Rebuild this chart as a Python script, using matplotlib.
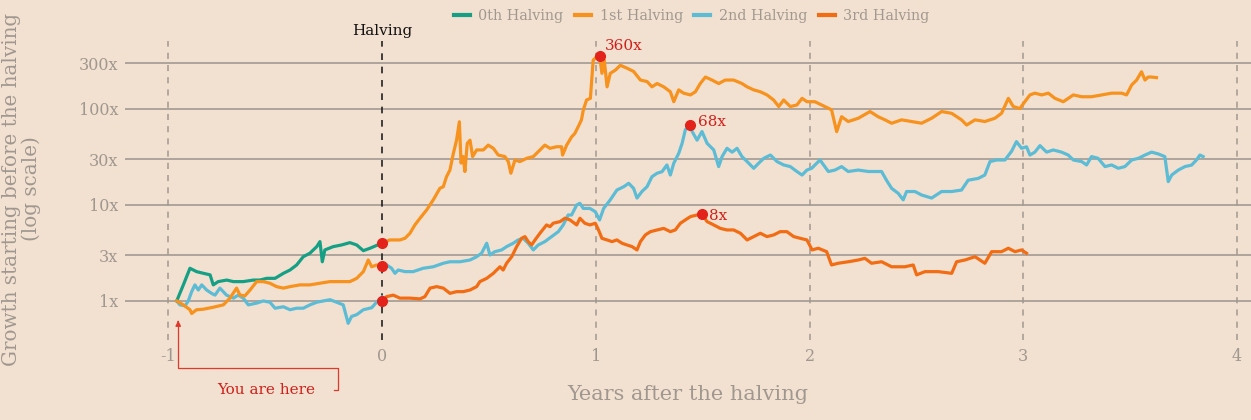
import matplotlib
matplotlib.use('Agg')
import matplotlib.pyplot as plt
from matplotlib.lines import Line2D
import matplotlib.transforms as mtransforms

# colores
BG = '#f2e1d0'
GRIS = '#a09890'
GRID = '#9c948d'
ROJO = '#e3231b'
C0 = '#15a085'
C1 = '#f7921e'
C2 = '#5cbcd6'
C3 = '#f26c14'

# 0th halving (sólo antes del halving)
h0_x = [-0.96, -0.93, -0.898, -0.867, -0.843, -0.804, -0.789, -0.766, -0.726, -0.695,
        -0.649, -0.602, -0.571, -0.539, -0.500, -0.461, -0.430, -0.399, -0.368, -0.337,
        -0.305, -0.290, -0.279, -0.267, -0.228, -0.189, -0.150, -0.118, -0.087, -0.056, 0.0]
h0_y = [1.0, 1.45, 2.19, 2.02, 1.96, 1.87, 1.47, 1.59, 1.65, 1.59,
        1.59, 1.65, 1.65, 1.72, 1.72, 1.94, 2.1, 2.37, 2.89, 3.14,
        3.68, 4.15, 2.56, 3.4, 3.68, 3.83, 4.05, 3.83, 3.34, 3.54, 4.0]

# 1st halving
h1_pre_x = [-0.96, -0.929, -0.898, -0.890, -0.867, -0.836, -0.789, -0.742, -0.711, -0.680,
            -0.664, -0.641, -0.617, -0.586, -0.555, -0.524, -0.493, -0.461, -0.430, -0.384,
            -0.337, -0.290, -0.243, -0.196, -0.150, -0.118, -0.087, -0.064, -0.048, -0.025, 0.0]
h1_pre_y = [1.0, 0.91, 0.81, 0.74, 0.81, 0.82, 0.86, 0.91, 1.07, 1.36,
            1.15, 1.13, 1.30, 1.59, 1.59, 1.53, 1.41, 1.36, 1.41, 1.47,
            1.47, 1.53, 1.59, 1.59, 1.59, 1.72, 2.02, 2.67, 2.27, 2.37, 2.3]
h1_post_x = [0.0, 0.037, 0.084, 0.108, 0.131, 0.154, 0.178, 0.209, 0.240, 0.271,
             0.287, 0.302, 0.318, 0.334, 0.349, 0.362, 0.370, 0.380, 0.388, 0.399,
             0.412, 0.424, 0.443, 0.474, 0.497, 0.521, 0.544, 0.575, 0.591, 0.603,
             0.622, 0.645, 0.677, 0.708, 0.739, 0.762, 0.786, 0.817, 0.840, 0.845,
             0.864, 0.887, 0.902, 0.918, 0.933, 0.942, 0.957,
             0.975, 0.988, 1.004, 1.018, 1.029, 1.04, 1.053, 1.068, 1.092, 1.115,
             1.146, 1.177, 1.209, 1.240, 1.263, 1.287, 1.318, 1.349, 1.365, 1.388,
             1.411, 1.443, 1.466, 1.489, 1.513, 1.544, 1.575, 1.606, 1.645, 1.684,
             1.708, 1.739, 1.770, 1.801, 1.832, 1.856, 1.879, 1.910, 1.941, 1.965, 1.988,
             2.025, 2.072, 2.103, 2.127, 2.150, 2.181, 2.228, 2.283, 2.321, 2.353,
             2.384, 2.431, 2.477, 2.524, 2.571, 2.618, 2.665, 2.711, 2.735, 2.774,
             2.820, 2.867, 2.898, 2.930, 2.953, 2.984, 3.007, 3.031,
             3.054, 3.086, 3.117, 3.148, 3.187, 3.234, 3.273, 3.319, 3.366, 3.413,
             3.460, 3.483, 3.507, 3.530, 3.553, 3.569, 3.584, 3.600, 3.623]
h1_post_y = [4.0, 4.32, 4.32, 4.5, 5.07, 6.19, 7.27, 8.86, 11.3, 14.9,
             15.5, 19.7, 23.1, 34.4, 47.3, 73.6, 27.3, 31.9, 22.3, 43.8,
             47.3, 31.9, 37.4, 37.4, 42, 38.9, 33.1, 31.9, 28.3, 21.4,
             29.4, 28.3, 30.6, 31.9, 37.4, 42, 38.9, 40.4, 40.4, 33.1,
             42, 51.1, 55.5, 65.3, 76.8, 97.8, 124,
             129, 322, 350, 360, 235, 322, 170, 235, 254, 285,
             266, 246, 200, 193, 170, 184, 170, 151, 119, 158,
             146, 140, 151, 184, 215, 200, 184, 200, 200, 184,
             170, 158, 151, 140, 124, 106, 124, 106, 110, 129, 119,
             119, 106, 98, 58, 83, 74, 80, 94, 83, 77,
             71, 77, 74, 71, 80, 94, 90, 77, 68, 77,
             74, 80, 90, 129, 106, 101, 119, 140,
             146, 140, 146, 129, 119, 140, 134, 134, 140, 146,
             146, 140, 178, 200, 244, 200, 215, 215, 212]

# 2nd halving
h2_pre_x = [-0.960, -0.945, -0.921, -0.906, -0.890, -0.875, -0.859, -0.843, -0.820, -0.797,
            -0.781, -0.758, -0.727, -0.695, -0.672, -0.649, -0.625, -0.586, -0.555, -0.524,
            -0.500, -0.461, -0.430, -0.399, -0.368, -0.337, -0.305, -0.274, -0.243, -0.212,
            -0.181, -0.158, -0.142, -0.118, -0.087, -0.048, -0.025, 0.0]
h2_pre_y = [1.0, 0.91, 0.89, 1.0, 1.25, 1.47, 1.30, 1.47, 1.30, 1.20,
            1.15, 1.36, 1.15, 1.07, 1.15, 1.07, 0.91, 0.95, 1.0, 0.97,
            0.84, 0.87, 0.81, 0.84, 0.84, 0.91, 0.97, 1.0, 1.03, 0.97,
            0.91, 0.585, 0.69, 0.72, 0.81, 0.85, 0.97, 1.1]
h2_post_x = [0.0, 0.022, 0.045, 0.061, 0.076, 0.108, 0.146, 0.193, 0.240, 0.287,
             0.318, 0.365, 0.412, 0.443, 0.466, 0.490, 0.505, 0.528, 0.560, 0.583,
             0.614, 0.637, 0.661, 0.684, 0.708, 0.731, 0.762, 0.794, 0.825, 0.848,
             0.871, 0.887, 0.911, 0.926, 0.942, 0.973,
             0.998, 1.018, 1.037, 1.068, 1.099, 1.131, 1.154, 1.177, 1.193, 1.216,
             1.240, 1.263, 1.287, 1.310, 1.333, 1.349, 1.365, 1.388, 1.404, 1.419,
             1.440, 1.451, 1.474, 1.497, 1.521, 1.552, 1.575, 1.591, 1.614, 1.638,
             1.661, 1.684, 1.708, 1.739, 1.762, 1.786, 1.817, 1.848, 1.879, 1.910,
             1.941, 1.965, 1.988,
             2.010, 2.049, 2.088, 2.119, 2.150, 2.181, 2.228, 2.275, 2.337, 2.360,
             2.384, 2.415, 2.438, 2.454, 2.493, 2.524, 2.571, 2.618, 2.665, 2.711,
             2.742, 2.789, 2.820, 2.844, 2.875, 2.914, 2.945, 2.968, 2.992, 3.015,
             3.031, 3.054, 3.078, 3.109, 3.140, 3.179, 3.210, 3.234, 3.273, 3.296,
             3.319, 3.350, 3.382, 3.413, 3.444, 3.475, 3.507, 3.538, 3.569, 3.600,
             3.631, 3.662, 3.678, 3.694, 3.725, 3.756, 3.787, 3.810, 3.826, 3.841]
h2_post_y = [2.37, 2.37, 2.19, 1.94, 2.10, 2.02, 2.02, 2.19, 2.27, 2.47,
             2.56, 2.56, 2.67, 2.89, 3.14, 3.99, 3.01, 3.26, 3.4, 3.68,
             3.99, 4.32, 4.49, 3.99, 3.4, 3.83, 4.15, 4.68, 5.27, 6.19,
             7.86, 7.86, 10, 10.4, 9.2, 9.2,
             8.5, 6.98, 9.2, 11.3, 14.3, 15.5, 16.8, 14.9, 11.8, 13.8,
             15.5, 19.7, 21.4, 22.2, 26.1, 20.5, 27.2, 34.4, 43.8, 60.5,
             68, 58.2, 47.3, 58.2, 43.8, 37.4, 25.1, 31.9, 38.9, 35.5,
             38.9, 31.9, 28.3, 24.1, 27.2, 30.6, 33.1, 28.3, 26.1, 25.1,
             22.3, 20.5, 23.1,
             24.1, 29.4, 22.3, 23.1, 25.1, 22.3, 23.1, 22.3, 22.3, 18.1,
             14.9, 13.2, 11.3, 13.8, 13.8, 12.7, 11.8, 13.8, 13.8, 14.3,
             18.1, 18.9, 20.5, 28.3, 29.4, 29.4, 36.2, 45.7, 38.9, 40.4,
             33.1, 35.5, 41.5, 35.5, 37.4, 35.5, 33.1, 29.4, 28.3, 26.1,
             31.9, 30.6, 25.1, 26.1, 24.1, 25.1, 29.4, 30.6, 33.1, 35.5,
             34, 31.9, 17.5, 20.5, 23.1, 25.1, 26, 29.4, 33.1, 31.9]

# 3rd halving (sólo después del halving)
h3_x = [0.0, 0.022, 0.053, 0.084, 0.131, 0.178, 0.201, 0.225, 0.256, 0.287,
        0.318, 0.349, 0.380, 0.412, 0.443, 0.458, 0.490, 0.521, 0.552, 0.567,
        0.583, 0.607, 0.630, 0.653, 0.669, 0.684, 0.700, 0.716, 0.739, 0.770,
        0.786, 0.801, 0.833, 0.856, 0.879, 0.911, 0.926, 0.949, 0.973,
        0.998, 1.013, 1.029, 1.053, 1.076, 1.099, 1.123, 1.146, 1.170, 1.193,
        1.209, 1.232, 1.256, 1.287, 1.318, 1.349, 1.372, 1.396, 1.419, 1.443,
        1.474, 1.497, 1.521, 1.552, 1.583, 1.614, 1.645, 1.677, 1.708, 1.739,
        1.770, 1.801, 1.832, 1.863, 1.894, 1.926, 1.957, 1.988, 2.012,
        2.041, 2.080, 2.103, 2.134, 2.181, 2.228, 2.259, 2.290, 2.337, 2.384,
        2.446, 2.485, 2.501, 2.540, 2.602, 2.665, 2.688, 2.727, 2.774, 2.820,
        2.852, 2.898, 2.930, 2.961, 2.992, 3.015]
h3_y = [1.0, 1.11, 1.15, 1.07, 1.07, 1.05, 1.11, 1.36, 1.41, 1.36,
        1.2, 1.25, 1.25, 1.30, 1.41, 1.59, 1.72, 1.94, 2.27, 2.10,
        2.47, 2.89, 3.68, 4.49, 4.68, 4.15, 3.83, 4.32, 5.07, 6.19,
        5.94, 6.45, 6.7, 7.27, 7.0, 6.19, 7.27, 6.45, 6.19,
        6.45, 5.49, 4.49, 4.32, 4.15, 4.32, 3.99, 3.83, 3.68, 3.4,
        4.15, 4.87, 5.27, 5.49, 5.7, 5.27, 5.49, 6.45, 6.98, 7.56,
        7.86, 8.0, 6.7, 6.19, 5.7, 5.49, 5.49, 5.07, 4.32, 4.68,
        5.07, 4.68, 4.87, 5.27, 5.27, 4.68, 4.49, 4.32, 3.4,
        3.54, 3.26, 2.37, 2.47, 2.56, 2.67, 2.78, 2.47, 2.56, 2.27,
        2.27, 2.37, 1.87, 2.02, 2.02, 1.94, 2.56, 2.67, 2.89, 2.47,
        3.26, 3.26, 3.54, 3.26, 3.4, 3.14]

# puntos destacados
dot_x = [0.0, 0.0, 0.0, 1.018, 1.44, 1.497]
dot_y = [4.0, 2.3, 1.0, 360, 68, 8.0]
peak_labels = ['360x', '68x', '8x']
peak_offsets = [(4, 2), (6, -3), (5, -6)]

y_ticks = [1, 3, 10, 30, 100, 300]
y_ticklabels = ['1x', '3x', '10x', '30x', '100x', '300x']
x_ticks = [-1, 0, 1, 2, 3, 4]

plt.rcParams['font.family'] = ['DejaVu Serif']
plt.rcParams['axes.unicode_minus'] = False

fig = plt.figure(figsize=(12.51, 4.2), dpi=100, facecolor=BG)
ax = fig.add_axes([0.0999, 0.1905, 0.9001, 0.712])
ax.set_facecolor(BG)
ax.set_yscale('log')
ax.set_xlim(-1.202, 4.065)
ax.set_ylim(0.392, 511)

for s in ax.spines.values():
    s.set_visible(False)

ax.set_yticks(y_ticks)
ax.set_yticklabels(y_ticklabels)
ax.minorticks_off()
ax.set_xticks(x_ticks)
ax.tick_params(length=0, labelsize=11.5, labelcolor=GRIS)
ax.tick_params(axis='y', pad=5)
ax.tick_params(axis='x', pad=6)
for t in y_ticks:
    ax.axhline(t, color=GRID, lw=1.1, zorder=1)
for t in x_ticks:
    if t == 0:
        ax.axvline(t, color='#222222', lw=1.2, ls=(0, (4, 4)), zorder=1)
    else:
        ax.axvline(t, color=GRIS, lw=1.1, ls=(0, (4, 4)), zorder=1)

lw = 2.3
ax.plot(h0_x, h0_y, color=C0, lw=lw, zorder=3)
ax.plot(h1_pre_x, h1_pre_y, color=C1, lw=lw, zorder=3)
ax.plot(h1_post_x, h1_post_y, color=C1, lw=lw, zorder=3)
ax.plot(h2_pre_x, h2_pre_y, color=C2, lw=lw, zorder=2.9)
ax.plot(h2_post_x, h2_post_y, color=C2, lw=lw, zorder=3)
ax.plot(h3_x, h3_y, color=C3, lw=lw, zorder=3)

ax.plot(dot_x, dot_y, 'o', color=ROJO, ms=7, zorder=5, ls='none')
for lab, px, py, off in zip(peak_labels, dot_x[3:], dot_y[3:], peak_offsets):
    ax.annotate(lab, (px, py), xytext=off, textcoords='offset points',
                color='#d0201a', fontsize=11, ha='left', va='bottom')

# etiqueta del halving
trans = mtransforms.blended_transform_factory(ax.transData, ax.transAxes)
ax.text(0, 1.01, 'Halving', transform=trans, ha='center', va='bottom',
        fontsize=11, color='#111111')

# "You are here"
ax.plot([-0.225, -0.206, -0.206, -0.953, -0.953], [0.118, 0.118, 0.2, 0.2, 0.58],
        color='#e0392c', lw=0.9, clip_on=False, zorder=4)
ax.annotate('', xy=(-0.953, 0.67), xytext=(-0.953, 0.56),
            arrowprops=dict(arrowstyle='-|>', color='#e0392c', lw=0.9,
                            mutation_scale=8), annotation_clip=False)
ax.text(-0.54, 0.118, 'You are here', color='#d0201a', fontsize=11,
        ha='center', va='center')

ax.set_xlabel('Years after the halving', fontsize=15, color=GRIS, labelpad=14)
fig.text(0.017, 0.55, 'Growth starting before the halving\n(log scale)',
         rotation=90, ha='center', va='center', fontsize=14.3, color=GRIS,
         linespacing=1.0)

handles = [Line2D([], [], color=c, lw=3) for c in (C0, C1, C2, C3)]
labels = ['0th Halving', '1st Halving', '2nd Halving', '3rd Halving']
fig.legend(handles, labels, loc='upper center', bbox_to_anchor=(0.553, 1.01),
           ncol=4, frameon=False, fontsize=10.4, handlelength=1.1,
           handletextpad=0.6, columnspacing=0.8, labelcolor=GRIS)

fig.savefig('out.png', dpi=100, facecolor=BG)
